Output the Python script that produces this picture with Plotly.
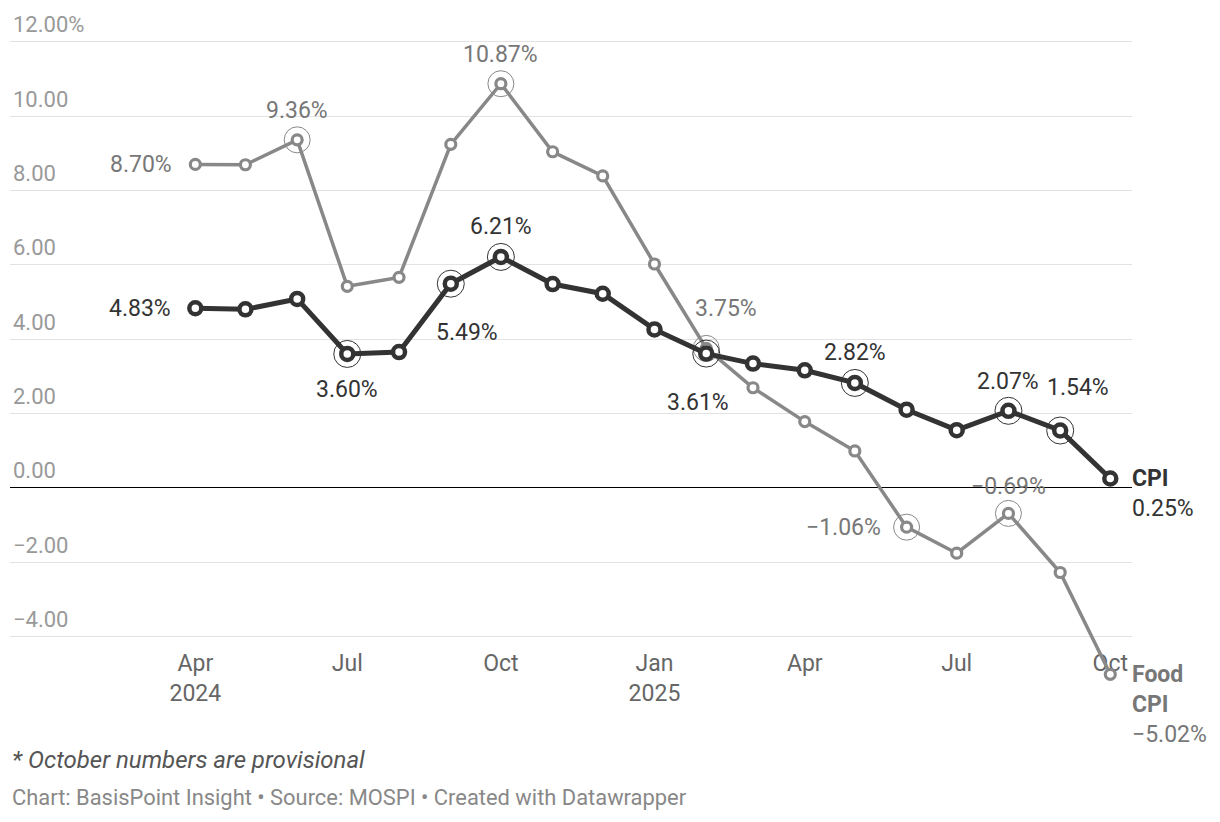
import plotly.graph_objects as go

# ---------------- data ----------------
months = ["2024-04-01", "2024-05-01", "2024-06-01", "2024-07-01", "2024-08-01",
          "2024-09-01", "2024-10-01", "2024-11-01", "2024-12-01", "2025-01-01",
          "2025-02-01", "2025-03-01", "2025-04-01", "2025-05-01", "2025-06-01",
          "2025-07-01", "2025-08-01", "2025-09-01", "2025-10-01"]
cpi = [4.83, 4.80, 5.08, 3.60, 3.65, 5.49, 6.21, 5.48, 5.22, 4.26,
       3.61, 3.34, 3.16, 2.82, 2.10, 1.55, 2.07, 1.54, 0.25]
food_cpi = [8.70, 8.69, 9.36, 5.42, 5.66, 9.24, 10.87, 9.04, 8.39, 6.02,
            3.75, 2.69, 1.78, 0.99, -1.06, -1.76, -0.69, -2.28, -5.02]

y_ticks = [-4, -2, 0, 2, 4, 6, 8, 10, 12]
x_tick_dates = ["2024-04-01", "2024-07-01", "2024-10-01", "2025-01-01",
                "2025-04-01", "2025-07-01", "2025-10-01"]
x_tick_labels = ["Apr<br>2024", "Jul", "Oct", "Jan<br>2025", "Apr", "Jul", "Oct"]

# highlighted (ringed) points
cpi_rings = [3, 5, 6, 10, 13, 16, 17]
food_rings = [2, 6, 10, 14, 16]

# ---------------- styling / label placement ----------------
FONT = "Roboto"
CPI_COL = "#333333"
FOOD_COL = "#888888"
FOOD_TXT = "#777777"
LBL = 23

# (index -> (dx, dy, xanchor)) pixel offsets of label from point (dy down positive)
cpi_label_pos = {0: (-22, 0, "right"), 3: (0, 36, "center"), 5: (16, 49, "center"),
                 6: (0, -30, "center"), 10: (-8, 49, "center"), 13: (0, -30, "center"),
                 16: (0, -29, "center"), 17: (18, -43, "center")}
food_label_pos = {0: (-21, 0, "right"), 2: (0, -29, "center"), 6: (0, -29, "center"),
                  10: (20, -40, "center"), 14: (-24, 0, "right"), 16: (0, -27, "center")}


def fmt(v, pct=True):
    s = f"{v:.2f}" + ("%" if pct else "")
    return s.replace("-", "\u2212")


fig = go.Figure()


def add_series(vals, rings, color, lw, msize, mlw, ring_size):
    fig.add_trace(go.Scatter(
        x=[months[i] for i in rings], y=[vals[i] for i in rings],
        mode="markers", cliponaxis=False, hoverinfo="skip",
        marker=dict(size=ring_size, color="rgba(0,0,0,0)",
                    line=dict(color=color, width=1)),
        showlegend=False))
    fig.add_trace(go.Scatter(
        x=months, y=vals, mode="lines+markers", cliponaxis=False,
        line=dict(color=color, width=lw),
        marker=dict(size=msize, color="white", line=dict(color=color, width=mlw)),
        showlegend=False))


add_series(food_cpi, food_rings, FOOD_COL, 3.5, 10, 3.2, 26)
add_series(cpi, cpi_rings, CPI_COL, 5, 12, 4.5, 27)

annotations = []
for vals, pos, col in [(cpi, cpi_label_pos, CPI_COL), (food_cpi, food_label_pos, FOOD_TXT)]:
    for i, (dx, dy, xa) in pos.items():
        annotations.append(dict(
            x=months[i], y=vals[i], xref="x", yref="y", text=fmt(vals[i]),
            showarrow=False, xanchor=xa, yanchor="middle", xshift=dx, yshift=-dy,
            font=dict(family=FONT, size=LBL, color=col)))

# end labels
annotations.append(dict(
    x=months[-1], y=cpi[-1], xref="x", yref="y",
    text=f"<b>CPI</b><br>{fmt(cpi[-1])}", showarrow=False, align="left",
    xanchor="left", yanchor="top", xshift=20, yshift=15,
    font=dict(family=FONT, size=LBL, color=CPI_COL)))
annotations.append(dict(
    x=months[-1], y=food_cpi[-1], xref="x", yref="y",
    text=f"<b>Food</b><br><b>CPI</b><br>{fmt(food_cpi[-1])}", showarrow=False,
    align="left", xanchor="left", yanchor="top", xshift=20, yshift=15,
    font=dict(family=FONT, size=LBL, color=FOOD_TXT)))

# footer
annotations.append(dict(
    x=0, y=-0.1043, xref="paper", yref="paper", xanchor="left", yanchor="middle",
    text="<i>* October numbers are provisional</i>", showarrow=False,
    font=dict(family=FONT, size=24, color="#555555")))
annotations.append(dict(
    x=0, y=-0.1586, xref="paper", yref="paper", xanchor="left", yanchor="middle",
    text="Chart: BasisPoint Insight \u2022 Source: MOSPI \u2022 Created with Datawrapper",
    showarrow=False, font=dict(family=FONT, size=21.9, color="#888888")))

y_tick_text = [fmt(v, pct=False) for v in y_ticks]
y_tick_text[-1] = y_tick_text[-1] + "%"

fig.update_layout(
    width=1204, height=806,
    margin=dict(l=2, r=80, t=0, b=125),
    paper_bgcolor="white", plot_bgcolor="white",
    font=dict(family=FONT),
    annotations=annotations,
    xaxis=dict(
        type="date", range=["2023-12-12", "2025-10-14"],
        tickvals=x_tick_dates, ticktext=x_tick_labels,
        showgrid=False, zeroline=False, showline=False, ticks="",
        anchor="free", position=0.0714, layer="below traces",
        tickfont=dict(family=FONT, size=23, color="#666666"),
        ticklabelstandoff=7,
    ),
    yaxis=dict(
        range=[-5.414, 12.907], tickvals=y_ticks, ticktext=y_tick_text,
        showgrid=True, gridcolor="#e3e3e3", gridwidth=1.2,
        zeroline=True, zerolinecolor="#000000", zerolinewidth=1.3,
        showline=False, ticks="",
        ticklabelposition="inside", ticklabelshift=-17,
        tickfont=dict(family=FONT, size=22, color="#999999"),
    ),
)

fig.write_html("out.html")
